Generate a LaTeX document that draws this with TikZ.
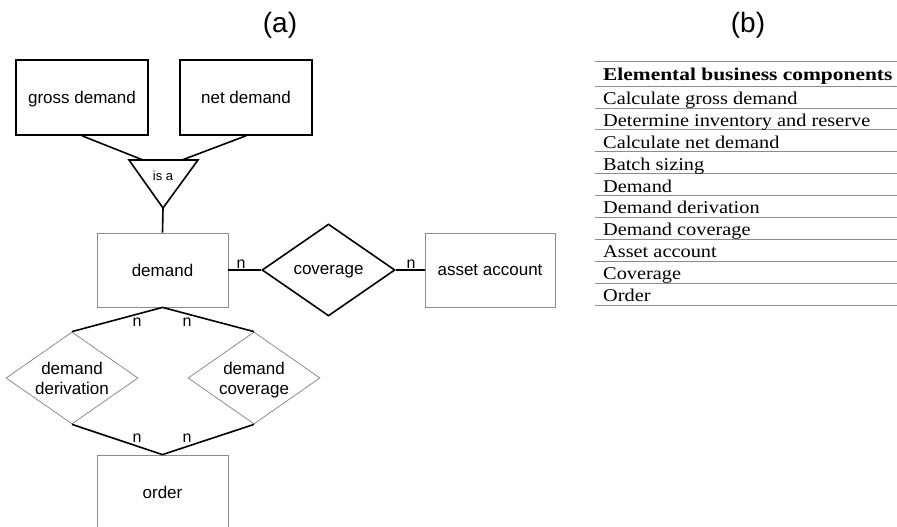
\documentclass[tikz,border=0pt]{standalone}
\usepackage{fontspec}
\usepackage{graphicx}
\setmainfont{Liberation Serif}
\newfontfamily\arialf{Liberation Sans}
\usetikzlibrary{shapes.geometric}
\definecolor{thinc}{HTML}{8C8C8C}
\newcommand{\rowt}[1]{\scalebox{1.13}[1]{#1}}
\newcommand{\headt}[1]{\scalebox{1.19}[1]{#1}}
\begin{document}
\begin{tikzpicture}[x=1pt,y=-1pt,
  lbl/.style={font=\arialf\fontsize{17}{20}\selectfont, align=center},
  thickbox/.style={lbl, draw=black, line width=1.6pt, minimum width=132pt, minimum height=75pt, inner sep=0pt},
  thinbox/.style={lbl, draw=thinc, line width=0.8pt, minimum width=131pt, minimum height=74pt, inner sep=0pt},
  rel/.style={lbl, diamond, draw=black, line width=1.6pt, minimum width=133pt, minimum height=92pt, inner sep=0pt, aspect=1.45},
  wrel/.style={rel, draw=thinc, line width=0.8pt, minimum width=132pt},
  conn/.style={line width=1.6pt, line join=miter},
  card/.style={font=\arialf\fontsize{16}{18}\selectfont, inner sep=0pt},
  title/.style={font=\arialf\fontsize{28}{32}\selectfont, inner sep=0pt},
  rowtxt/.style={anchor=base west, inner sep=0pt, font=\fontsize{18}{20}\selectfont},
  rulec/.style={draw=thinc, line width=0.8pt}]
\useasboundingbox (0,0) rectangle (897,527);
\clip (0,0) rectangle (897,527);

% titles
\node[title] (ta) at (280,25) {(a)};
\node[title] (tb) at (748,25) {(b)};

% entities
\node[thickbox, text depth=0pt] (gross) at (82,97.5) {gross demand};
\node[thickbox] (net) at (246,97.5) {net demand};
\node[thinbox] (demand) at (162.5,270) {demand};
\node[thinbox, minimum width=130pt] (asset) at (490,270) {asset account};
\node[thinbox, minimum height=75pt] (order) at (162.5,492.5) {order};

% relationships
\node[rel, text depth=0pt] (cov) at (328.5,270) {coverage};
\node[wrel] (dd) at (72,378) {demand\\derivation};
\node[wrel, text depth=0pt] (dc) at (254,378) {demand\\coverage};

% is-a triangle
\coordinate (t1) at (129,160);
\coordinate (t2) at (198,160);
\coordinate (t3) at (163,208);
\coordinate (ga) at (143,160);
\coordinate (gb) at (182,160);
\draw[conn] (t1) -- (t2) -- (t3) -- cycle;
\node[font=\arialf\fontsize{13}{15}\selectfont, inner sep=0pt] (isa) at (163,176) {is a};

% connectors
\draw[conn] (gross.south) -- (ga);
\draw[conn] (net.south) -- (gb);
\draw[conn] (t3) -- (demand.north);
\draw[conn] (demand.east) -- (cov.west);
\draw[conn] (cov.east) -- (asset.west);
\draw[conn] (dd.north) -- (demand.south) -- (dc.north);
\draw[conn] (dd.south) -- (order.north) -- (dc.south);

% cardinalities
\node[card] (n1) at (241,264) {n};
\node[card] (n2) at (411,264) {n};
\node[card] (n3) at (137,322) {n};
\node[card] (n4) at (187,322) {n};
\node[card] (n5) at (137,438) {n};
\node[card] (n6) at (187,438) {n};

% table
\foreach \yy in {61,86,107.9,129.8,151.7,173.6,195.5,217.4,239.3,261.2,283.1,305}
  \draw[rulec] (595,\yy) -- (897,\yy);
\node[rowtxt] (h) at (603,81) {\headt{\bfseries Elemental business components}};
\node[rowtxt] (r1) at (603,104.4) {\rowt{Calculate gross demand}};
\node[rowtxt] (r2) at (603,126.3) {\rowt{Determine inventory and reserve}};
\node[rowtxt] (r3) at (603,148.2) {\rowt{Calculate net demand}};
\node[rowtxt] (r4) at (603,170.1) {\rowt{Batch sizing}};
\node[rowtxt] (r5) at (603,192.0) {\rowt{Demand}};
\node[rowtxt] (r6) at (603,213.9) {\rowt{Demand derivation}};
\node[rowtxt] (r7) at (603,235.8) {\rowt{Demand coverage}};
\node[rowtxt] (r8) at (603,257.7) {\rowt{Asset account}};
\node[rowtxt] (r9) at (603,279.6) {\rowt{Coverage}};
\node[rowtxt] (r10) at (603,301.5) {\rowt{Order}};
\end{tikzpicture}
\end{document}
